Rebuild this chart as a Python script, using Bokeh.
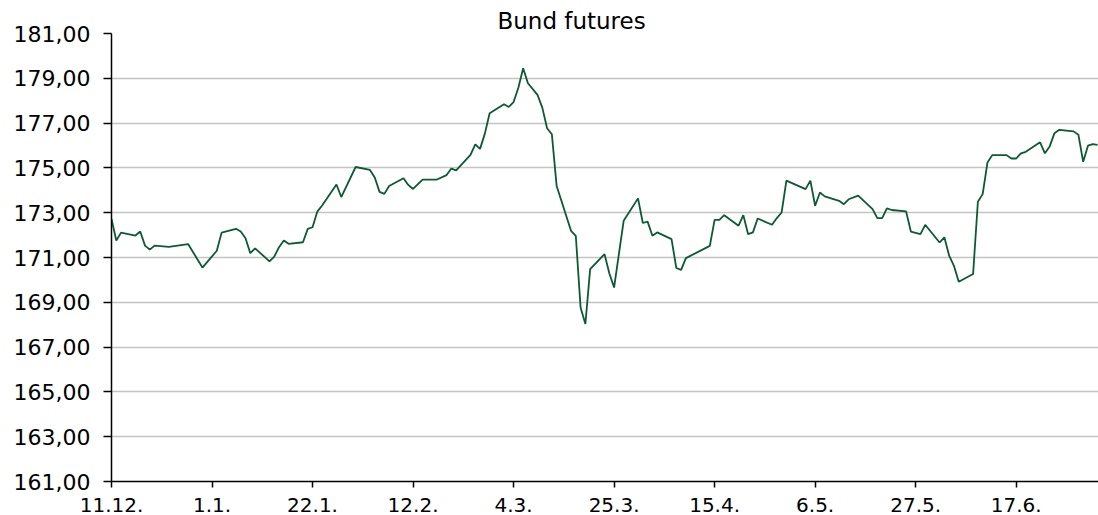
import pandas as pd
from bokeh.plotting import figure
from bokeh.models import FixedTicker, Range1d, ColumnDataSource
from bokeh.embed import file_html
from bokeh.resources import INLINE

TITLE = "Bund futures"

dates = [
    "2023-12-11", "2023-12-12", "2023-12-13", "2023-12-16", "2023-12-17", "2023-12-18",
    "2023-12-19", "2023-12-20", "2023-12-23", "2023-12-27", "2023-12-30", "2024-01-02",
    "2024-01-03", "2024-01-06", "2024-01-07", "2024-01-08", "2024-01-09", "2024-01-10",
    "2024-01-13", "2024-01-14", "2024-01-15", "2024-01-16", "2024-01-17", "2024-01-20",
    "2024-01-21", "2024-01-22", "2024-01-23", "2024-01-24", "2024-01-27", "2024-01-28",
    "2024-01-31", "2024-02-03", "2024-02-04", "2024-02-05", "2024-02-06", "2024-02-07",
    "2024-02-10", "2024-02-11", "2024-02-12", "2024-02-14", "2024-02-17", "2024-02-19",
    "2024-02-20", "2024-02-21", "2024-02-24", "2024-02-25", "2024-02-26", "2024-02-27",
    "2024-02-28", "2024-03-02", "2024-03-03", "2024-03-04", "2024-03-05", "2024-03-06",
    "2024-03-07", "2024-03-09", "2024-03-10", "2024-03-11", "2024-03-12", "2024-03-13",
    "2024-03-16", "2024-03-17", "2024-03-18", "2024-03-19", "2024-03-20", "2024-03-23",
    "2024-03-24", "2024-03-25", "2024-03-26", "2024-03-27", "2024-03-30", "2024-03-31",
    "2024-04-01", "2024-04-02", "2024-04-03", "2024-04-06", "2024-04-07", "2024-04-08",
    "2024-04-09", "2024-04-14", "2024-04-15", "2024-04-16", "2024-04-17", "2024-04-20",
    "2024-04-21", "2024-04-22", "2024-04-23", "2024-04-24", "2024-04-27", "2024-04-28",
    "2024-04-29", "2024-04-30", "2024-05-04", "2024-05-05", "2024-05-06", "2024-05-07",
    "2024-05-08", "2024-05-11", "2024-05-12", "2024-05-13", "2024-05-15", "2024-05-18",
    "2024-05-19", "2024-05-20", "2024-05-21", "2024-05-22", "2024-05-25", "2024-05-26",
    "2024-05-28", "2024-05-29", "2024-06-01", "2024-06-02", "2024-06-03", "2024-06-04",
    "2024-06-05", "2024-06-08", "2024-06-09", "2024-06-10", "2024-06-11", "2024-06-12",
    "2024-06-15", "2024-06-16", "2024-06-17", "2024-06-18", "2024-06-19", "2024-06-22",
    "2024-06-23", "2024-06-24", "2024-06-25", "2024-06-26", "2024-06-29", "2024-06-30",
    "2024-07-01", "2024-07-02", "2024-07-03", "2024-07-04",
]

values = [
    172.72, 171.76, 172.11, 171.98, 172.16, 171.53,
    171.35, 171.53, 171.47, 171.60, 170.55, 171.30,
    172.11, 172.28, 172.16, 171.86, 171.19, 171.41,
    170.83, 171.04, 171.46, 171.76, 171.61, 171.68,
    172.28, 172.35, 173.05, 173.32, 174.26, 173.70,
    175.04, 174.91, 174.57, 173.93, 173.84, 174.19,
    174.54, 174.24, 174.06, 174.48, 174.48, 174.68,
    174.97, 174.89, 175.58, 176.05, 175.85, 176.53,
    177.44, 177.84, 177.72, 177.94, 178.58, 179.45,
    178.78, 178.26, 177.69, 176.77, 176.50, 174.19,
    172.19, 171.97, 168.77, 168.03, 170.48, 171.15,
    170.30, 169.66, 171.15, 172.64, 173.64, 172.54,
    172.60, 171.97, 172.12, 171.82, 170.53, 170.45,
    170.97, 171.52, 172.68, 172.68, 172.89, 172.42,
    172.89, 172.04, 172.12, 172.74, 172.46, 172.76,
    173.01, 174.43, 174.05, 174.43, 173.31, 173.90,
    173.73, 173.53, 173.38, 173.60, 173.76, 173.16,
    172.76, 172.76, 173.19, 173.12, 173.06, 172.16,
    172.04, 172.46, 171.67, 171.90, 171.08, 170.63,
    169.92, 170.26, 173.49, 173.83, 175.24, 175.57,
    175.57, 175.42, 175.42, 175.65, 175.72, 176.14,
    175.65, 175.96, 176.55, 176.70, 176.63, 176.48,
    175.27, 175.99, 176.06, 176.03,
]

x_tick_dates = ["2023-12-11", "2024-01-01", "2024-01-22", "2024-02-12", "2024-03-04",
                "2024-03-25", "2024-04-15", "2024-05-06", "2024-05-27", "2024-06-17"]
x_tick_labels = ["11.12.", "1.1.", "22.1.", "12.2.", "4.3.",
                 "25.3.", "15.4.", "6.5.", "27.5.", "17.6."]

y_ticks = [161, 163, 165, 167, 169, 171, 173, 175, 177, 179, 181]
y_tick_labels = ["161,00", "163,00", "165,00", "167,00", "169,00", "171,00",
                 "173,00", "175,00", "177,00", "179,00", "181,00"]

X_START = "2023-12-11"
X_SPAN_DAYS = 206.2


def to_ms(d):
    return int(pd.Timestamp(d).value // 10**6)


src = ColumnDataSource(dict(x=[to_ms(d) for d in dates], y=values))

x0 = to_ms(X_START)
x1 = x0 + X_SPAN_DAYS * 86400000.0

p = figure(width=1098, height=515, x_axis_type="datetime",
           output_backend="svg", toolbar_location=None,
           x_range=Range1d(x0, x1), y_range=Range1d(161, 181),
           min_border_left=111, min_border_right=0,
           min_border_top=33, min_border_bottom=34)
p.outline_line_color = None
p.background_fill_color = "white"
p.border_fill_color = "white"

p.title.text = TITLE
p.title.align = "left"
p.title.offset = 386
p.title.standoff = 0
p.title.vertical_align = "bottom"
p.title.text_font = "DejaVu Sans"
p.title.text_font_size = "23px"
p.title.text_font_style = "normal"
p.title.text_color = "black"

p.line("x", "y", source=src, line_color="#0b5a33", line_width=1.8)

# y axis
p.yaxis.ticker = FixedTicker(ticks=y_ticks)
p.yaxis.major_label_overrides = {t: l for t, l in zip(y_ticks, y_tick_labels)}
p.yaxis.minor_tick_line_color = None
p.yaxis.major_tick_in = 0
p.yaxis.major_tick_out = 8
p.yaxis.major_tick_line_color = "black"
p.yaxis.major_tick_line_width = 1.5
p.yaxis.axis_line_color = "black"
p.yaxis.axis_line_width = 1.5
p.yaxis.major_label_standoff = 13
p.yaxis.major_label_text_font = "DejaVu Sans"
p.yaxis.major_label_text_font_size = "22px"
p.yaxis.major_label_text_color = "black"

# x axis
xt = [to_ms(d) for d in x_tick_dates]
p.xaxis.ticker = FixedTicker(ticks=xt)
p.xaxis.major_label_overrides = {t: l for t, l in zip(xt, x_tick_labels)}
p.xaxis.minor_tick_line_color = None
p.xaxis.major_tick_in = 0
p.xaxis.major_tick_out = 6
p.xaxis.major_tick_line_color = "black"
p.xaxis.major_tick_line_width = 1.5
p.xaxis.axis_line_color = "black"
p.xaxis.axis_line_width = 1.5
p.xaxis.major_label_standoff = 10
p.xaxis.major_label_text_line_height = 0.6
p.xaxis.major_label_text_font = "DejaVu Sans"
p.xaxis.major_label_text_font_size = "20px"
p.xaxis.major_label_text_color = "black"

p.xgrid.grid_line_color = None
p.ygrid.grid_line_color = "#c4c4c4"
p.ygrid.grid_line_width = 1.5

open("out.html", "w").write(file_html(p, INLINE))
